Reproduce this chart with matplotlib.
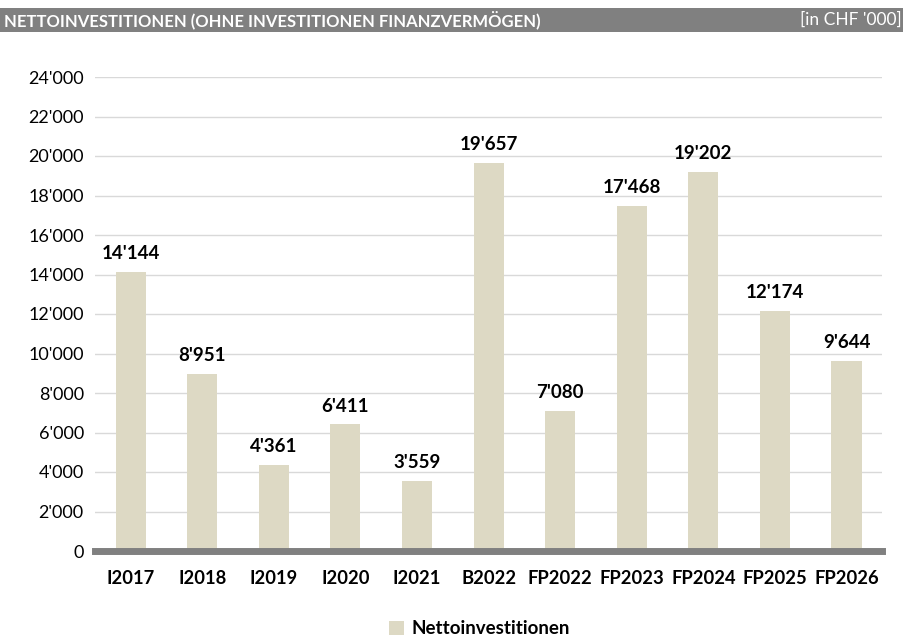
import matplotlib.pyplot as plt

# Datos
categorias = ['I2017', 'I2018', 'I2019', 'I2020', 'I2021', 'B2022',
              'FP2022', 'FP2023', 'FP2024', 'FP2025', 'FP2026']
nettoinvestitionen = [14144, 8951, 4361, 6411, 3559, 19657,
                      7080, 17468, 19202, 12174, 9644]
y_ticks = list(range(0, 24001, 2000))


def fmt(v):
    return f"{v:,.0f}".replace(',', "'")


plt.rcParams['font.family'] = ['Lato', 'DejaVu Sans']

fig = plt.figure(figsize=(9.04, 6.39), dpi=100)

# Kopfzeile
fig.patches.append(plt.Rectangle((0, 1 - 32 / 639), 1, 24 / 639,
                                 transform=fig.transFigure,
                                 facecolor='#808080', edgecolor='none'))
fig.text(0.004, 1 - 20 / 639, 'NETTOINVESTITIONEN (OHNE INVESTITIONEN FINANZVERMÖGEN)',
         color='white', fontsize=12, fontweight='bold', va='center', ha='left')
fig.text(0.997, 1 - 20 / 639, "[in CHF '000]", color='white', fontsize=12.5,
         va='center', ha='right')

ax = fig.add_axes([0.105, 1 - 551 / 639, 0.871, 474 / 639])
x = range(len(categorias))
bars = ax.bar(x, nettoinvestitionen, width=0.42, color='#ddd9c4',
              label='Nettoinvestitionen', zorder=2)

for xi, v in zip(x, nettoinvestitionen):
    ax.text(xi, v + 500, fmt(v), ha='center', va='bottom',
            fontsize=13.5, fontweight='bold', color='black')

ax.set_xlim(-0.5, len(categorias) - 0.5)
ax.set_ylim(0, 24000)
ax.set_yticks(y_ticks)
ax.set_yticklabels([fmt(t) for t in y_ticks], fontsize=13)
ax.set_xticks(list(x))
ax.set_xticklabels(categorias, fontsize=13.2, fontweight='bold')
ax.tick_params(axis='both', length=0)
ax.tick_params(axis='y', pad=8)
ax.tick_params(axis='x', pad=14)
ax.grid(axis='y', color='#d9d9d9', linewidth=1, zorder=0)
for s in ['top', 'right', 'left']:
    ax.spines[s].set_visible(False)
ax.spines['bottom'].set_color('#808080')
ax.spines['bottom'].set_linewidth(5)
ax.spines['bottom'].set_zorder(3)

fig.legend(handles=[bars], labels=['Nettoinvestitionen'], loc='center',
           bbox_to_anchor=(0.53, 1 - 629 / 639), frameon=False,
           prop={'size': 13.5, 'weight': 'bold'}, handlelength=0.8,
           handleheight=0.8, handletextpad=0.4)

fig.savefig('out.png', dpi=100)
